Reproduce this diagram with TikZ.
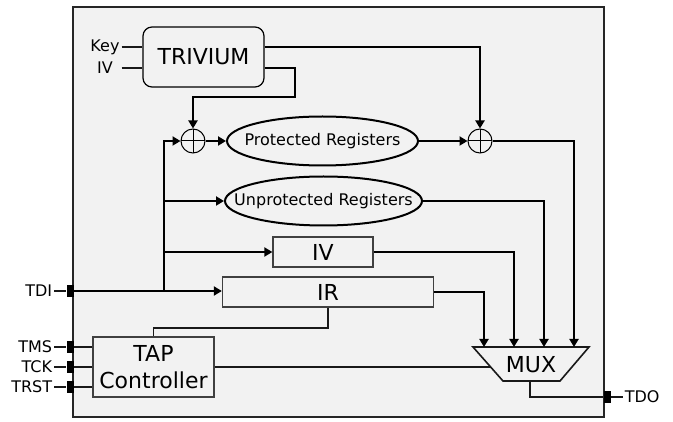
\documentclass[tikz,border=0pt]{standalone}
\usepackage{fontspec}
\setmainfont{DejaVu Sans}
\usetikzlibrary{arrows.meta,shapes.geometric,positioning}

\begin{document}
\begin{tikzpicture}[x=1pt,y=-1pt,
    small/.style={font=\fontsize{16}{19}\selectfont},
    big/.style={font=\fontsize{22}{27}\selectfont},
    reg/.style={draw=black!75,line width=1.3pt,big,minimum height=30pt,inner sep=0pt},
    regs/.style={ellipse,draw,line width=2pt,small,minimum height=49pt,inner xsep=-22pt,inner ysep=0pt},
    xor/.style={circle,draw,line width=1pt,minimum size=24pt,inner sep=0pt,
        path picture={\draw[line width=1pt] (path picture bounding box.north) -- (path picture bounding box.south)
            (path picture bounding box.west) -- (path picture bounding box.east);}},
    pin/.style={fill=black,minimum width=7pt,minimum height=12pt,inner sep=0pt},
    sig/.style={small,inner sep=2pt},
    bus/.style={line width=2pt},
    wire/.style={line width=1.6pt,black!90},
    arr/.style={-{Triangle[length=8pt,width=9pt]}}]
    \useasboundingbox (0,0) rectangle (673,422);
    \node[draw=black!85,line width=1.8pt,fill=black!5,minimum width=531pt,minimum height=410pt,inner sep=0pt] (chip) at (338.5,212) {};

    % cipher and registers
    \node[draw,rounded corners=9pt,line width=1.2pt,big,minimum width=121pt,minimum height=60pt] (trivium) at (203.5,57) {TRIVIUM};
    \node[sig] (key) at (105,47) {Key};
    \node[sig] (ivin) at (105,68) {IV};
    \node[xor] (xor1) at (193,141) {};
    \node[xor] (xor2) at (480,141) {};
    \node[regs,minimum width=191pt] (prot) at (322.5,141) {Protected Registers};
    \node[regs,minimum width=197pt] (unprot) at (323.5,201) {Unprotected Registers};
    \node[reg,minimum width=100pt] (ivreg) at (323,252) {IV};
    \node[reg,minimum width=211pt] (ir) at (328,292) {IR};
    \node[reg,minimum width=121pt,minimum height=60pt,align=center] (tap) at (153.5,367) {TAP\\Controller};

    % mux
    \coordinate (mtl) at (473,347);
    \coordinate (mtr) at (589,347);
    \coordinate (mbr) at (560,381);
    \coordinate (mbl) at (503,381);
    \draw[wire] (mtl) -- (mtr) -- (mbr) -- (mbl) -- cycle;
    \node[big] (mux) at (531,365) {MUX};
    \foreach \n/\x in {1/484,2/514,3/544,4/574}
        \coordinate (in\n) at (\x,347);
    \coordinate (msel) at (490.5,367);
    \coordinate (mout) at (530,381);

    % pins
    \node[pin] (tdi-pin) at (70,291) {};
    \node[sig,left=12pt of tdi-pin] (tdi) {TDI};
    \foreach \nm/\txt/\y in {tms/TMS/347,tck/TCK/367,trst/TRST/387}
    {
        \node[pin] (\nm-pin) at (70,\y) {};
        \node[sig,left=12pt of \nm-pin] (\nm) {\txt};
        \draw[wire] (\nm) -- (\nm-pin);
        \draw[wire] (\nm-pin) -- (tap.west |- \nm-pin);
    }
    \node[pin] (tdo-pin) at (607,397) {};
    \node[sig,right=12pt of tdo-pin] (tdo) {TDO};

    % wires
    \draw[wire] (key) -- (trivium.west |- key);
    \draw[wire] (ivin.east -| key.east) -- (trivium.west |- ivin);
    \draw[bus,arr] (trivium.east |- key) -| (xor2.north);
    \draw[bus,arr] (trivium.east |- ivin) -- ++(30,0) -- ++(0,29) -| (xor1.north);
    \draw[bus,arr] (xor1) -- (prot);
    \draw[bus,arr] (prot) -- (xor2);
    \draw[bus,arr] (xor2.east) -| (in4);
    \draw[bus,arr] (unprot.east) -| (in3);
    \draw[bus,arr] (ivreg.east) -| (in2);
    \draw[bus,arr] (ir.east) -| (in1);
    \coordinate (split) at (164,291);
    \draw[wire] (tdi) -- (tdi-pin);
    \draw[bus,arr] (tdi-pin.east) -- (tdi-pin -| ir.west);
    \draw[bus,arr] (split) |- (xor1.west);
    \draw[bus,arr] (split |- unprot) -- (unprot.west);
    \draw[bus,arr] (split |- ivreg) -- (ivreg.west);
    \draw[wire] (ir.south) -- ++(0,20.5) -| (tap.north);
    \draw[wire] (tap.east) -- (msel);
    \draw[wire] (mout) |- (tdo-pin.west);
    \draw[wire] (tdo-pin) -- (tdo);
\end{tikzpicture}
\end{document}
